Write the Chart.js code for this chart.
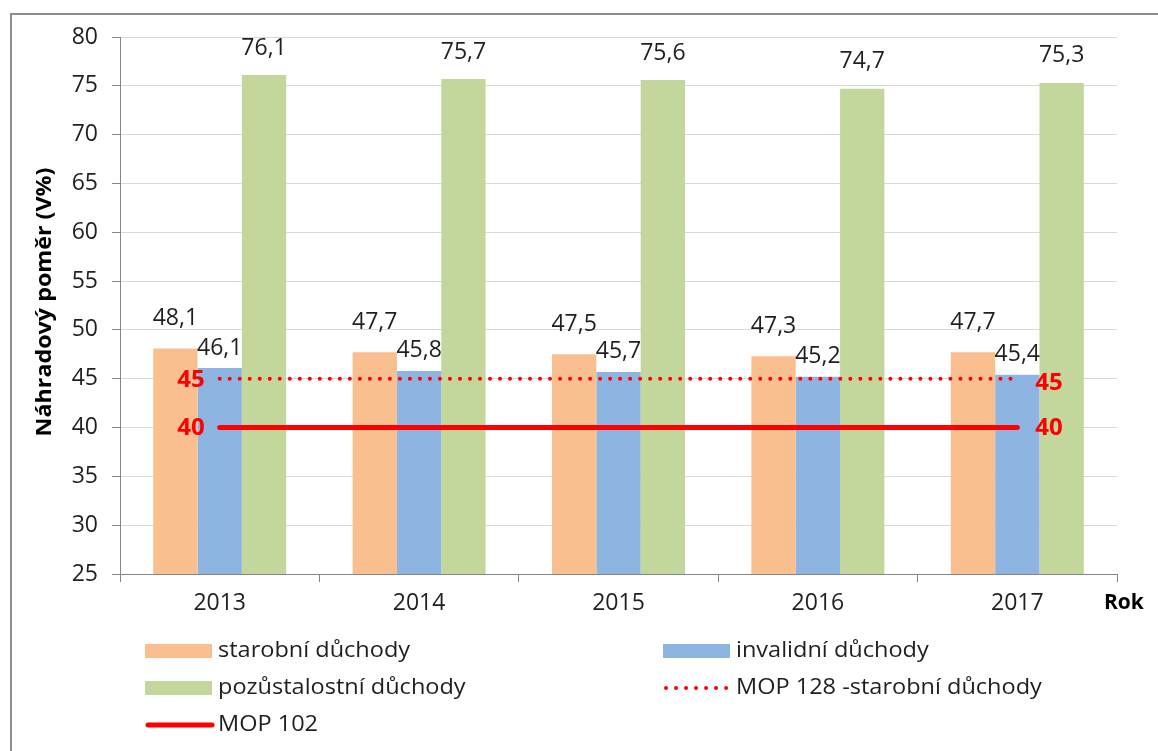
<!DOCTYPE html>
<html>
<head>
<meta charset="utf-8">
<script src="https://cdn.jsdelivr.net/npm/chart.js@4.4.0/dist/chart.umd.min.js"></script>
<style>
  html, body { margin: 0; padding: 0; background: #fff; }
  canvas { display: block; }
</style>
</head>
<body>
<canvas id="c" width="1158" height="751"></canvas>
<script>
// ---- data ----
const categories = ['2013', '2014', '2015', '2016', '2017'];
const starobni = [48.1, 47.7, 47.5, 47.3, 47.7];
const invalidni = [46.1, 45.8, 45.7, 45.2, 45.4];
const pozustalostni = [76.1, 75.7, 75.6, 74.7, 75.3];
const mop128 = [45, 45, 45, 45, 45];
const mop102 = [40, 40, 40, 40, 40];
const yMin = 25, yMax = 80, yStep = 5;
const seriesNames = ['starobní důchody', 'invalidní důchody', 'pozůstalostní důchody', 'MOP 128 -starobní důchody', 'MOP 102'];
const yTitle = 'Náhradový poměr (V%)';
const xTitle = 'Rok';

const FONT = '"Open Sans", "DejaVu Sans", sans-serif';
const TXT = '#1f1f1f';
const fmt = v => v.toFixed(1).replace('.', ',');

const labelOffsets = [30, 20, 27];

function stretchText(ctx, text, x, y, sx) {
  ctx.save();
  ctx.translate(x, y);
  ctx.scale(sx, 1);
  ctx.fillText(text, 0, 0);
  ctx.restore();
}

const overlay = {
  id: 'overlay',
  afterDatasetsDraw(chart) {
    const ctx = chart.ctx;
    ctx.save();
    // bar value labels
    ctx.font = '23px ' + FONT;
    ctx.fillStyle = TXT;
    ctx.textAlign = 'center';
    ctx.textBaseline = 'middle';
    [0, 1, 2].forEach(di => {
      const meta = chart.getDatasetMeta(di);
      meta.data.forEach((bar, i) => {
        const v = chart.data.datasets[di].data[i];
        ctx.fillText(fmt(v), bar.x, bar.y - labelOffsets[di]);
      });
    });
    // red end labels for lines
    ctx.font = 'bold 24px ' + FONT;
    ctx.fillStyle = '#ff0000';
    [3, 4].forEach(di => {
      const meta = chart.getDatasetMeta(di);
      const pts = meta.data;
      const first = pts[0], last = pts[pts.length - 1];
      const v = chart.data.datasets[di].data[0];
      ctx.textAlign = 'right';
      ctx.fillText(String(v), first.x - 15, first.y + 1);
      ctx.textAlign = 'left';
      ctx.fillText(String(v), last.x + 18, last.y + (di === 3 ? 4 : 1));
    });
    ctx.restore();
  },
  afterDraw(chart) {
    const ctx = chart.ctx;
    ctx.save();
    // outer border
    ctx.strokeStyle = '#8c8c8c';
    ctx.lineWidth = 2;
    ctx.beginPath();
    ctx.moveTo(11, 760);
    ctx.lineTo(11, 14);
    ctx.lineTo(1170, 14);
    ctx.stroke();
    // y title
    ctx.fillStyle = '#000';
    ctx.font = 'bold 21px ' + FONT;
    ctx.textAlign = 'center';
    ctx.textBaseline = 'middle';
    const tw = ctx.measureText(yTitle).width;
    ctx.translate(45, 302);
    ctx.rotate(-Math.PI / 2);
    ctx.scale(269 / tw, 1);
    ctx.fillText(yTitle, 0, 0);
    ctx.setTransform(1, 0, 0, 1, 0, 0);
    // x title
    ctx.font = 'bold 21px ' + FONT;
    ctx.textAlign = 'left';
    ctx.fillText(xTitle, 1104, 603);
    // legend
    const ds = chart.data.datasets;
    const cols = [145, 663];
    const rows = [651, 688, 725];
    ctx.font = '21px ' + FONT;
    ctx.textBaseline = 'middle';
    ds.forEach((d, i) => {
      const x = cols[i % 2], y = rows[Math.floor(i / 2)];
      if (d.type === 'line') {
        ctx.strokeStyle = d.borderColor;
        ctx.lineWidth = d.borderWidth;
        ctx.lineCap = 'round';
        ctx.setLineDash(d.borderDash || []);
        ctx.beginPath();
        ctx.moveTo(x + 3, y);
        ctx.lineTo(x + 67, y);
        ctx.stroke();
        ctx.setLineDash([]);
      } else {
        ctx.fillStyle = d.backgroundColor;
        ctx.fillRect(x, y - 7, 67, 14);
      }
      ctx.fillStyle = TXT;
      stretchText(ctx, d.label, x + 73, y, 1.12);
    });
    ctx.restore();
  }
};

new Chart(document.getElementById('c'), {
  data: {
    labels: categories,
    datasets: [
      { type: 'bar', label: seriesNames[0], data: starobni, backgroundColor: '#F9BF8F', order: 2 },
      { type: 'bar', label: seriesNames[1], data: invalidni, backgroundColor: '#8EB4E2', order: 2 },
      { type: 'bar', label: seriesNames[2], data: pozustalostni, backgroundColor: '#C3D69B', order: 2 },
      { type: 'line', label: seriesNames[3], data: mop128, borderColor: '#ff0000', borderWidth: 4,
        borderDash: [0.01, 10], borderCapStyle: 'round', pointRadius: 0, fill: false, order: 1 },
      { type: 'line', label: seriesNames[4], data: mop102, borderColor: '#ff0000', borderWidth: 5,
        borderCapStyle: 'round', pointRadius: 0, fill: false, order: 0 }
    ]
  },
  options: {
    responsive: false,
    animation: false,
    layout: { padding: { left: 0, right: 41, top: 37, bottom: 0 } },
    plugins: { legend: { display: false }, tooltip: { enabled: false } },
    datasets: { bar: { categoryPercentage: 0.667, barPercentage: 1.0 } },
    scales: {
      x: {
        offset: true,
        grid: { display: true, offset: true, drawOnChartArea: false, drawTicks: true, tickLength: 8, color: '#868686' },
        border: { display: true, color: '#868686', width: 1 },
        ticks: { font: { family: FONT, size: 23 }, color: TXT, padding: 8 },
        afterFit(scale) { scale.height = 177; }
      },
      y: {
        min: yMin, max: yMax,
        grid: { color: '#d9d9d9', tickColor: '#868686', tickLength: 8, lineWidth: 1 },
        border: { display: true, color: '#868686', width: 1 },
        ticks: { stepSize: yStep, font: { family: FONT, size: 23 }, color: TXT, padding: 14 },
        afterFit(scale) { scale.width = 120; }
      }
    }
  },
  plugins: [overlay]
});
</script>
</body>
</html>
